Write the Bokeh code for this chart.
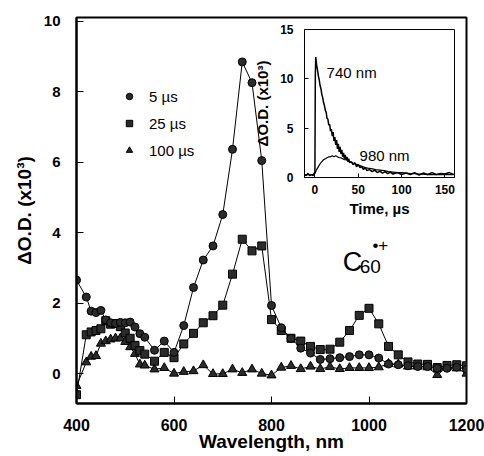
from bokeh.plotting import figure
from bokeh.models import FixedTicker, Legend, LegendItem, Label, Column
from bokeh.embed import file_html
from bokeh.resources import INLINE

# ---------------- data: transient absorption spectra ----------------
wavelength = [400, 420, 430, 440, 450, 460, 470, 480, 490, 500, 510, 520, 530, 540,
              560, 580, 600, 620, 640, 660, 680, 700, 720, 740,
              760, 780, 800, 820, 840, 860, 880, 900, 920, 940,
              960, 980, 1000, 1020, 1040, 1060, 1080, 1100, 1120, 1140,
              1160, 1180, 1200]
od_5us = [2.65, 2.17, 1.77, 1.73, 1.79, 1.52, 1.44, 1.42, 1.45, 1.44, 1.46, 1.32, 1.13, 1.03,
          0.66, 0.92, 0.60, 1.36, 2.44, 3.22, 3.62, 4.51, 6.36, 8.84,
          8.25, 6.04, 1.93, 1.30, 1.00, 0.72, 0.58, 0.40, 0.42, 0.45,
          0.48, 0.53, 0.53, 0.44, 0.27, 0.25, 0.22, 0.20, 0.20, 0.15,
          0.15, 0.18, 0.12]
od_25us = [-0.60, 1.10, 1.18, 1.22, 1.27, 1.50, 1.40, 1.42, 1.33, 1.15, 1.00, 0.80, 0.65, 0.55,
           0.35, 0.60, 0.45, 0.84, 1.14, 1.44, 1.64, 1.94, 2.82, 3.81,
           3.48, 3.62, 1.53, 1.22, 1.00, 0.92, 0.77, 0.68, 0.69, 0.89,
           1.22, 1.65, 1.85, 1.41, 0.77, 0.53, 0.33, 0.27, 0.26, 0.17,
           0.23, 0.25, 0.22]
od_100us = [-0.35, 0.32, 0.48, 0.50, 0.85, 0.92, 0.97, 1.00, 1.00, 0.90, 0.75, 0.56, 0.26, 0.23,
            0.12, 0.16, 0.00, 0.05, 0.07, 0.24, -0.01, -0.01, 0.12, 0.02,
            0.12, 0.00, -0.05, 0.17, 0.22, 0.13, 0.20, 0.13, 0.19, 0.13,
            0.16, 0.16, 0.16, 0.18, 0.28, 0.26, 0.20, 0.20, 0.18, -0.04,
            0.18, 0.15, 0.00]
series_labels = ["5 \u00b5s", "25 \u00b5s", "100 \u00b5s"]
x_ticks = [400, 600, 800, 1000, 1200]
y_ticks = [0, 2, 4, 6, 8, 10]

# ---------------- data: inset kinetic traces ----------------
t_740 = [-12, -10, -8, -6, -4, -2, -1, 0, 0.5, 1,
         2, 3, 4, 5, 6, 7, 8, 9, 10, 11,
         12, 13, 14, 15, 16, 17, 18, 19, 20, 21,
         22, 23, 24, 25, 26, 27, 28, 29, 30, 31,
         32, 33, 34, 35, 36, 37, 38, 39, 40, 42,
         44, 46, 48, 50, 52, 54, 56, 58, 60, 63,
         66, 69, 72, 75, 78, 81, 84, 87, 90, 95,
         100, 105, 110, 115, 120, 125, 130, 135, 140, 145,
         150, 155, 160]
od_740 = [0.3, 0.2, 0.4, 0.2, 0.3, 0.2, 0.4, 0.5, 10.5, 12.2,
          11.4, 10.9, 10.3, 9.9, 9.3, 9.0, 8.4, 8.1, 7.6, 7.3,
          6.8, 6.6, 6.0, 5.9, 5.3, 5.4, 4.7, 4.9, 4.2, 4.6,
          3.7, 4.1, 3.3, 3.8, 2.9, 3.4, 2.6, 3.1, 2.4, 2.8,
          2.1, 2.5, 1.9, 2.3, 1.8, 2.1, 1.6, 1.9, 1.5, 1.6,
          1.3, 1.5, 1.1, 1.3, 1.0, 1.1, 0.8, 1.0, 0.7, 0.8,
          0.6, 0.75, 0.5, 0.65, 0.45, 0.6, 0.4, 0.55, 0.35, 0.5,
          0.3, 0.45, 0.3, 0.5, 0.25, 0.45, 0.3, 0.5, 0.3, 0.4,
          0.35, 0.5, 0.3]
t_980 = [-12, -10, -8, -6, -4, -2, 0, 2, 4, 6,
         8, 10, 12, 14, 16, 18, 20, 22, 24, 26,
         28, 30, 32, 34, 36, 38, 40, 43, 46, 49,
         52, 55, 58, 61, 65, 70, 75, 80, 85, 90,
         95, 100, 105, 110, 115, 120, 125, 130, 135, 140,
         145, 150, 155, 160]
od_980 = [0.3, 0.2, 0.4, 0.2, 0.3, 0.3, 0.4, 0.8, 1.1, 1.4,
          1.6, 1.8, 1.9, 2.0, 2.1, 2.1, 2.2, 2.1, 2.2, 2.1,
          2.0, 2.0, 1.9, 1.8, 1.8, 1.7, 1.6, 1.5, 1.4, 1.3,
          1.2, 1.1, 1.0, 0.95, 0.9, 0.8, 0.75, 0.7, 0.6, 0.55,
          0.5, 0.5, 0.45, 0.4, 0.4, 0.35, 0.35, 0.3, 0.3, 0.3,
          0.3, 0.3, 0.3, 0.3]
inset_x_ticks = [0, 50, 100, 150]
inset_y_ticks = [0, 5, 10, 15]

FONT = "Liberation Sans"
INK = "black"
MARK = "#2b2b2b"
LEFT_BORDER = 76     # shared by both plots (Bokeh aligns frames in a column)
RIGHT_BORDER = 18

# ---------------- main figure ----------------
p = figure(frame_width=390, frame_height=386, x_range=(400, 1200), y_range=(-0.85, 10.1),
           output_backend="svg", toolbar_location=None,
           min_border_left=LEFT_BORDER, min_border_right=RIGHT_BORDER,
           min_border_top=17, min_border_bottom=36)
p.xgrid.visible = False
p.ygrid.visible = False
p.outline_line_color = INK
p.outline_line_width = 2
p.background_fill_color = "white"

p.xaxis.ticker = FixedTicker(ticks=x_ticks)
p.yaxis.ticker = FixedTicker(ticks=y_ticks)
for ax in (p.xaxis[0], p.yaxis[0]):
    ax.axis_line_color = INK
    ax.axis_line_width = 2
    ax.major_tick_in = 7
    ax.major_tick_out = 0
    ax.major_tick_line_color = INK
    ax.major_tick_line_width = 1
    ax.minor_tick_line_color = None
    ax.major_label_text_font = FONT
    ax.major_label_text_font_style = "bold"
    ax.major_label_text_color = INK
    ax.axis_label_text_font = FONT
    ax.axis_label_text_font_style = "bold"
    ax.axis_label_text_color = INK
p.xaxis.major_label_text_font_size = "16px"
p.yaxis.major_label_text_font_size = "15px"
p.xaxis.major_label_standoff = 15
p.yaxis.major_label_standoff = 16
p.xaxis.axis_label = "Wavelength, nm"
p.yaxis.axis_label = "\u0394O.D. (x10\u00b3)"
p.xaxis.axis_label_text_font_size = "19px"
p.yaxis.axis_label_text_font_size = "19px"
p.xaxis.axis_label_standoff = -3
p.yaxis.axis_label_standoff = 6

l1 = p.line(wavelength, od_100us, line_color=INK, line_width=1)
s1 = p.scatter(wavelength, od_100us, marker="triangle", size=9, fill_color=MARK, line_color=INK)
l2 = p.line(wavelength, od_25us, line_color=INK, line_width=1)
s2 = p.scatter(wavelength, od_25us, marker="square", size=8, fill_color=MARK, line_color=INK)
l3 = p.line(wavelength, od_5us, line_color=INK, line_width=1)
s3 = p.scatter(wavelength, od_5us, marker="circle", size=8, fill_color=MARK, line_color=INK)

legend = Legend(items=[LegendItem(label=series_labels[0], renderers=[s3]),
                       LegendItem(label=series_labels[1], renderers=[s2]),
                       LegendItem(label=series_labels[2], renderers=[s1])],
                location=(45, 243), padding=0, margin=0, spacing=7,
                glyph_width=16, glyph_height=20, label_height=20, label_standoff=12,
                border_line_color=None, background_fill_alpha=0,
                label_text_font=FONT, label_text_font_size="15px", label_text_color=INK)
p.add_layout(legend)

p.add_layout(Label(x=946, y=3.15, text="C", text_font=FONT, text_font_size="27px",
                   text_baseline="alphabetic", text_color=INK))
p.add_layout(Label(x=981, y=3.05, text="60", text_font=FONT, text_font_size="19px",
                   text_baseline="alphabetic", text_color=INK))
p.add_layout(Label(x=1007, y=3.62, text="\u2022+", text_font=FONT, text_font_size="17px",
                   text_baseline="alphabetic", text_color=INK))

# ---------------- inset figure ----------------
ins = figure(frame_width=150, frame_height=148, x_range=(-12, 161), y_range=(0, 15),
             output_backend="svg", toolbar_location=None,
             min_border_left=LEFT_BORDER, min_border_right=RIGHT_BORDER, min_border_top=7,
             min_border_bottom=42)
ins.xgrid.visible = False
ins.ygrid.visible = False
ins.outline_line_color = INK
ins.outline_line_width = 1
ins.background_fill_alpha = 0
ins.border_fill_alpha = 0
ins.xaxis.ticker = FixedTicker(ticks=inset_x_ticks)
ins.yaxis.ticker = FixedTicker(ticks=inset_y_ticks)
for ax in (ins.xaxis[0], ins.yaxis[0]):
    ax.axis_line_color = INK
    ax.axis_line_width = 1
    ax.major_tick_in = 4
    ax.major_tick_out = 0
    ax.major_tick_line_color = INK
    ax.minor_tick_line_color = None
    ax.major_label_text_font = FONT
    ax.major_label_text_font_style = "bold"
    ax.major_label_text_font_size = "12px"
    ax.major_label_text_color = INK
    ax.axis_label_text_font = FONT
    ax.axis_label_text_font_style = "bold"
    ax.axis_label_text_color = INK
ins.xaxis.major_label_standoff = 7
ins.yaxis.major_label_standoff = 11
ins.xaxis.axis_label = "Time, \u00b5s"
ins.yaxis.axis_label = "\u0394O.D. (x10\u00b3)"
ins.xaxis.axis_label_text_font_size = "15px"
ins.yaxis.axis_label_text_font_size = "15px"
ins.xaxis.axis_label_standoff = 3
ins.yaxis.axis_label_standoff = 6

ins.line(t_980, od_980, line_color=INK, line_width=1.2)
ins.line(t_740, od_740, line_color=INK, line_width=1.5)
ins.add_layout(Label(x=13.5, y=10.6, text="740 nm", text_font=FONT, text_font_size="15px",
                     text_baseline="alphabetic", text_color=INK))
ins.add_layout(Label(x=51.5, y=2.2, text="980 nm", text_font=FONT, text_font_size="15px",
                     text_baseline="alphabetic", text_color=INK))
ins.styles = {"position": "absolute", "left": f"{304 - LEFT_BORDER}px", "top": "22px"}

layout = Column(children=[p, ins], styles={"position": "relative"})

open("out.html", "w").write(file_html(layout, INLINE))
